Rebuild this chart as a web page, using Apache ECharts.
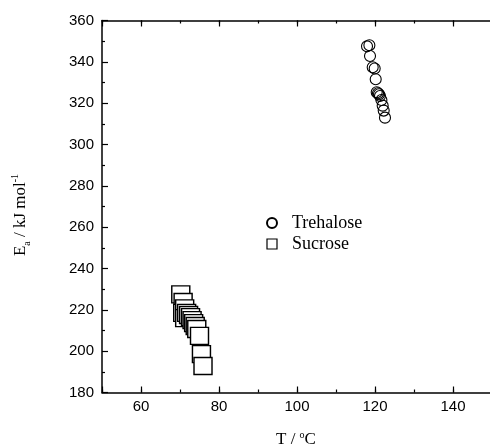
<!DOCTYPE html>
<html>
<head>
<meta charset="utf-8">
<script src="https://cdn.jsdelivr.net/npm/echarts@6/dist/echarts.min.js"></script>
<style>
  html, body { margin: 0; padding: 0; background: #fff; }
  #chart { width: 490px; height: 445px; }
</style>
</head>
<body>
<div id="chart"></div>
<script>
// Activation energy vs temperature for two sugars
const trehaloseT  = [117.95, 118.56, 118.72, 119.41, 119.92, 120.18, 120.44, 120.77, 121.03, 121.28, 121.64, 121.97, 122.23, 122.56];
const trehaloseEa = [347.5, 348.0, 342.8, 337.4, 336.8, 331.6, 325.3, 324.8, 324.3, 323.5, 321.5, 318.8, 316.4, 313.0];

const sucroseT  = [70.2, 70.8, 70.7, 71.2, 71.2, 71.7, 72.2, 72.7, 73.1, 73.5, 73.9, 74.3, 75.0, 75.5, 75.9];
const sucroseEa = [227.5, 223.8, 218.5, 220.7, 216.0, 218.5, 217.5, 216.5, 215.0, 213.6, 212.2, 210.7, 207.4, 198.6, 192.8];

const xMin = 50, xMax = 150;
const yMin = 180, yMax = 360;

const pairs = (xs, ys) => xs.map((x, i) => [x, ys[i]]);

const chart = echarts.init(document.getElementById('chart'), null, { renderer: 'canvas' });

const axisLineStyle = { color: '#000', width: 1.5 };
const labelFont = { color: '#000', fontSize: 15, fontFamily: 'Liberation Sans, Arial, sans-serif' };

// Major-tick axis (labels every 20) plus a minor-tick companion (every 10)
function xAxes(position, withLabels) {
  return [
    {
      type: 'value', gridIndex: 0, position: position, min: xMin, max: xMax, splitNumber: 5,
      axisLine: { show: true, lineStyle: axisLineStyle },
      axisTick: { show: true, inside: true, length: 6, lineStyle: { color: '#000', width: 1.2 } },
      axisLabel: {
        show: withLabels, margin: 7, ...labelFont,
        formatter: v => (v % 20 === 0 ? String(v) : '')
      },
      splitLine: { show: false }
    },
    {
      type: 'value', gridIndex: 0, position: position, min: xMin, max: xMax, interval: 10,
      axisLine: { show: false },
      axisTick: { show: true, inside: true, length: 3, lineStyle: { color: '#000', width: 1.2 } },
      axisLabel: { show: false },
      splitLine: { show: false }
    }
  ];
}

const serif = 'Liberation Serif, Times New Roman, serif';

chart.setOption({
  animation: false,
  backgroundColor: '#fff',
  grid: { left: 102, top: 20.5, width: 390, height: 372, outerBoundsMode: 'none', containLabel: false },
  xAxis: [...xAxes('bottom', true), ...xAxes('top', false)],
  yAxis: {
    type: 'value', position: 'left', min: yMin, max: yMax, interval: 20,
    axisLine: { show: true, lineStyle: axisLineStyle },
    axisTick: { show: true, inside: true, length: 6, lineStyle: { color: '#000', width: 1.2 } },
    minorTick: { show: true, splitNumber: 2, length: 3, lineStyle: { color: '#000', width: 1.2 } },
    axisLabel: { show: true, margin: 8, ...labelFont },
    splitLine: { show: false },
    minorSplitLine: { show: false }
  },
  legend: {
    orient: 'vertical',
    left: 261, top: 209,
    itemWidth: 10, itemHeight: 10, itemGap: 3,
    textStyle: { fontFamily: serif, fontSize: 18, color: '#000', lineHeight: 18, padding: [0, 0, 0, 10] },
    data: [
      { name: 'Trehalose', icon: 'circle' },
      { name: 'Sucrose', icon: 'rect', itemStyle: { color: 'rgba(0,0,0,0)', borderColor: '#000', borderWidth: 1.2 } }
    ]
  },
  series: [
    {
      name: 'Trehalose', type: 'scatter', xAxisIndex: 0, yAxisIndex: 0,
      symbol: 'circle', symbolSize: 11,
      itemStyle: { color: 'rgba(0,0,0,0)', borderColor: '#000', borderWidth: 1.1, opacity: 1 },
      data: pairs(trehaloseT, trehaloseEa)
    },
    {
      name: 'Sucrose', type: 'scatter', xAxisIndex: 0, yAxisIndex: 0,
      symbol: 'rect', symbolSize: [18, 17],
      itemStyle: { color: '#fff', borderColor: '#000', borderWidth: 1.4, opacity: 1 },
      data: pairs(sucroseT, sucroseEa)
    }
  ],
  graphic: [
    {
      type: 'text', left: 276, top: 430,
      style: {
        text: '{m|T / }{p|o}{m|C}',
        rich: {
          m: { fontFamily: serif, fontSize: 17, fill: '#000', lineHeight: 18, verticalAlign: 'bottom' },
          p: { fontFamily: serif, fontSize: 10, fill: '#000', lineHeight: 18, verticalAlign: 'top' }
        }
      }
    },
    {
      type: 'text', x: 21, y: 215, rotation: Math.PI / 2,
      style: {
        text: '{m|E}{s|a}{m| / kJ mol}{p|-1}',
        align: 'center', verticalAlign: 'middle',
        rich: {
          m: { fontFamily: serif, fontSize: 17, fill: '#000', lineHeight: 22, verticalAlign: 'middle' },
          s: { fontFamily: serif, fontSize: 10, fill: '#000', lineHeight: 10, verticalAlign: 'bottom' },
          p: { fontFamily: serif, fontSize: 10, fill: '#000', lineHeight: 10, verticalAlign: 'top' }
        }
      }
    }
  ]
});
</script>
</body>
</html>
